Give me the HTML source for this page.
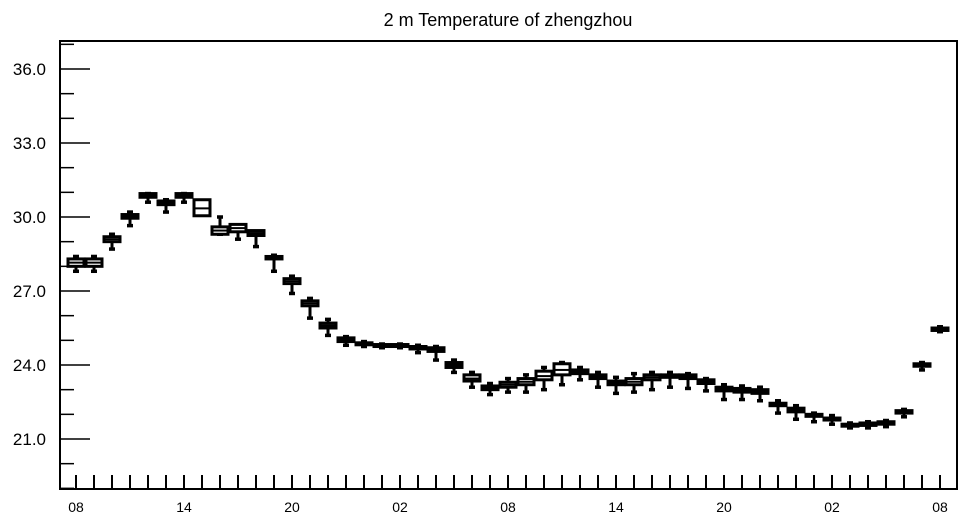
<!DOCTYPE html>
<html><head><meta charset="utf-8"><style>
body{margin:0;background:#fff}
svg text{font-family:"Liberation Sans",Helvetica,sans-serif;fill:#000}
</style></head><body>
<svg id="c" width="964" height="520" xmlns="http://www.w3.org/2000/svg">
<text x="508" y="26" text-anchor="middle" font-size="18">2 m Temperature of zhengzhou</text>
<rect x="60" y="41" width="897" height="448" fill="none" stroke="#000" stroke-width="2"/>
<g id="marks"></g>
</svg>
<script>
const hourLabels=["08","14","20","02","08","14","20","02","08"];
const yTicks=[21,24,27,30,33,36];
const mins=[27.8,27.8,28.7,29.65,30.6,30.2,30.6,30.1,29.3,29.1,28.8,27.8,26.9,25.9,25.2,24.8,24.75,24.7,24.7,24.5,24.2,23.7,23.1,22.8,22.9,22.9,23.0,23.2,23.4,23.1,22.85,22.9,23.0,23.1,23.05,22.95,22.6,22.6,22.55,22.05,21.8,21.7,21.6,21.45,21.45,21.5,21.9,23.8,25.35];
const q1s=[28.0,28.0,29.0,29.95,30.8,30.5,30.8,30.05,29.3,29.4,29.25,28.3,27.3,26.4,25.5,24.95,24.85,24.78,24.78,24.65,24.55,23.9,23.35,23.0,23.1,23.2,23.4,23.6,23.65,23.45,23.2,23.2,23.4,23.5,23.45,23.25,22.95,22.9,22.85,22.35,22.1,21.95,21.8,21.55,21.55,21.6,22.05,23.95,25.4];
const meds=[28.15,28.15,29.1,30.02,30.87,30.57,30.87,30.35,29.45,29.55,29.35,28.35,27.4,26.5,25.6,25.02,24.87,24.8,24.8,24.7,24.62,24.0,23.45,23.08,23.2,23.32,23.55,23.8,23.72,23.52,23.27,23.32,23.5,23.55,23.52,23.32,23.02,22.97,22.92,22.4,22.17,21.97,21.82,21.57,21.6,21.65,22.1,24.0,25.45];
const q3s=[28.3,28.3,29.2,30.1,30.95,30.65,30.95,30.7,29.6,29.7,29.45,28.4,27.5,26.6,25.7,25.1,24.9,24.83,24.83,24.75,24.7,24.1,23.6,23.15,23.3,23.45,23.75,24.05,23.8,23.6,23.35,23.45,23.6,23.6,23.6,23.4,23.1,23.05,23.0,22.45,22.25,22.0,21.85,21.6,21.65,21.7,22.15,24.05,25.5];
const maxs=[28.4,28.4,29.3,30.2,30.95,30.7,30.95,30.6,30.0,29.65,29.4,28.45,27.6,26.7,25.85,25.15,24.95,24.85,24.85,24.8,24.75,24.2,23.7,23.25,23.45,23.6,23.9,24.1,23.9,23.7,23.5,23.65,23.7,23.7,23.65,23.45,23.2,23.15,23.1,22.55,22.35,22.05,21.95,21.65,21.7,21.75,22.2,24.1,25.55];
const Y=v=>69+(36-v)*74/3;
const X=i=>76+i*18;
const NS="http://www.w3.org/2000/svg";
const g=document.getElementById('marks');
function mk(t,a){const e=document.createElementNS(NS,t);for(const k in a)e.setAttribute(k,a[k]);g.appendChild(e);return e;}
for(let v=19;v<=37;v++){
  const major=yTicks.includes(v);
  const e=mk('line',{x1:60,x2:major?90:74,y1:Y(v),y2:Y(v),stroke:'#000','stroke-width':1.5});
  
  
}
yTicks.forEach(v=>{
  const t=mk('text',{x:46,y:Y(v)+6,'text-anchor':'end','font-size':17});
  t.textContent=v.toFixed(1);
  
  
});
for(let i=0;i<mins.length;i++){
  const e=mk('line',{x1:X(i),x2:X(i),y1:475,y2:489,stroke:'#000','stroke-width':2});
  
  
}
hourLabels.forEach((l,k)=>{
  const t=mk('text',{x:X(k*6),y:512,'text-anchor':'middle','font-size':14});
  t.textContent=l;
  
  
});
for(let i=0;i<mins.length;i++){
  const x=X(i);
  const w1=mk('line',{x1:x,x2:x,y1:Y(maxs[i]),y2:Y(mins[i]),stroke:'#000','stroke-width':3});
  
  
  [maxs[i],mins[i]].forEach(v=>{
    const c=mk('line',{x1:x-3,x2:x+3,y1:Y(v),y2:Y(v),stroke:'#000','stroke-width':3.5});
    
    
  });
  const h=Math.max(Y(q1s[i])-Y(q3s[i]),2);
  const b=mk('rect',{x:x-8,y:Y(q3s[i]),width:16,height:h,fill:'#fff',stroke:'#000','stroke-width':3});
  
  
  const m=mk('line',{x1:x-8,x2:x+8,y1:Y(meds[i]),y2:Y(meds[i]),stroke:'#000','stroke-width':2});
  
  
}
</script>
</body></html>
